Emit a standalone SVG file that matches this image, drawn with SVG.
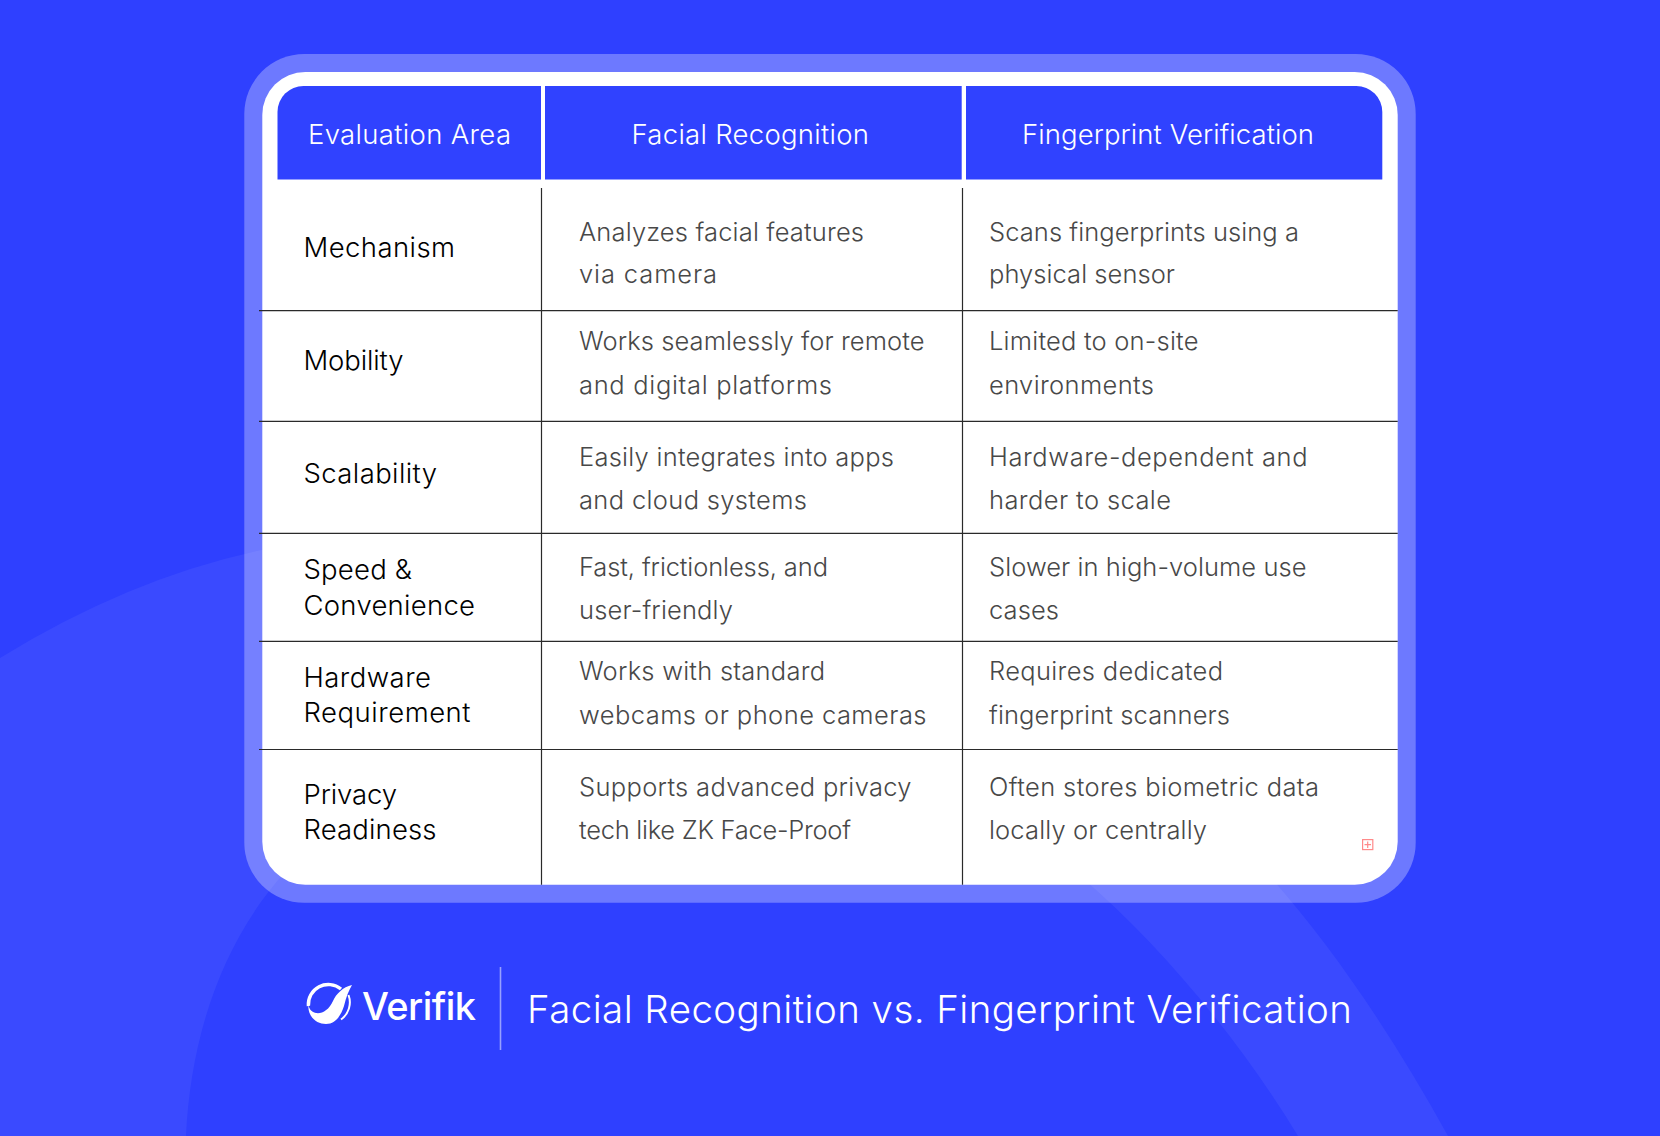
<svg xmlns="http://www.w3.org/2000/svg" width="1660" height="1136" viewBox="0 0 1660 1136">
<style>
text{font-family:"Inter","Noto Sans","Liberation Sans",sans-serif}
.h{font-size:27.5px;fill:#fff;font-weight:300}
.l{font-size:27.5px;fill:#000;font-weight:350}
.b{font-size:25.5px;fill:#484848;font-weight:300}
.g{stroke:#2a2a2a;stroke-width:1.2;fill:none}
</style>
<rect width="1660" height="1136" fill="#2f40ff"/>
<path id="bg-arc" fill="#fff" fill-opacity="0.055" d="M0,658 Q130,578 262,550 L300,550 L1273,880 C1335,950 1395,1040 1448,1136 L1298,1136 C1240,1040 1160,945 1085,880 L285,872 C215,950 190,1050 186,1136 L0,1136 Z"/>
<g id="panel">
<rect x="244.3" y="54" width="1171.4" height="848.7" rx="60" fill="#fff" fill-opacity="0.3"/>
<rect x="262.3" y="72" width="1135.4" height="812.7" rx="43" fill="#fff"/>
</g>
<g id="header" fill="#3042ff">
<path d="M277.5,179.5V112a26,26 0 0 1 26,-26H541V179.5Z"/>
<rect x="545" y="86" width="416.7" height="93.5"/>
<path d="M966,86H1356.3a26,26 0 0 1 26,26V179.5H966Z"/>
<text class="h" x="308" y="144" textLength="203">Evaluation Area</text>
<text class="h" x="631.5" y="144" textLength="237.5">Facial Recognition</text>
<text class="h" x="1022" y="144" textLength="292">Fingerprint Verification</text>
</g>
<g id="grid">
<path class="g" d="M541.5,188V884.7M962.5,188V884.7"/>
<path class="g" d="M259,310.7H1397.7M259,421.3H1397.7M259,533.3H1397.7M259,641.3H1397.7M259,749.5H1397.7"/>
</g>
<g id="row-mechanism">
<text class="l" x="303.5" y="256.5" textLength="151.5">Mechanism</text>
<text class="b" x="579" y="240.7" textLength="285">Analyzes facial features</text>
<text class="b" x="579" y="283" textLength="138">via camera</text>
<text class="b" x="989" y="240.7" textLength="310">Scans fingerprints using a</text>
<text class="b" x="989" y="283" textLength="186">physical sensor</text>
</g>
<g id="row-mobility">
<text class="l" x="303.5" y="369.5" textLength="100">Mobility</text>
<text class="b" x="579" y="349.8" textLength="345.5">Works seamlessly for remote</text>
<text class="b" x="579" y="394" textLength="253">and digital platforms</text>
<text class="b" x="989" y="349.8" textLength="209.5">Limited to on-site</text>
<text class="b" x="989" y="394" textLength="165">environments</text>
</g>
<g id="row-scalability">
<text class="l" x="303.5" y="482.8" textLength="133.5">Scalability</text>
<text class="b" x="579" y="465.5" textLength="315">Easily integrates into apps</text>
<text class="b" x="579" y="508.5" textLength="228">and cloud systems</text>
<text class="b" x="989" y="465.5" textLength="318.5">Hardware-dependent and</text>
<text class="b" x="989" y="508.5" textLength="182">harder to scale</text>
</g>
<g id="row-speed">
<text class="l" x="303.5" y="578.5" textLength="108.5">Speed &amp;</text>
<text class="l" x="303.5" y="614.5" textLength="171.5">Convenience</text>
<text class="b" x="579" y="575.5" textLength="249">Fast, frictionless, and</text>
<text class="b" x="579" y="618.5" textLength="154">user-friendly</text>
<text class="b" x="989" y="575.5" textLength="317.5">Slower in high-volume use</text>
<text class="b" x="989" y="618.5" textLength="70">cases</text>
</g>
<g id="row-hardware">
<text class="l" x="303.5" y="686.5" textLength="127.5">Hardware</text>
<text class="l" x="303.5" y="722" textLength="167">Requirement</text>
<text class="b" x="579" y="679.5" textLength="246">Works with standard</text>
<text class="b" x="579" y="723.5" textLength="347.5">webcams or phone cameras</text>
<text class="b" x="989" y="679.5" textLength="234">Requires dedicated</text>
<text class="b" x="989" y="723.5" textLength="241">fingerprint scanners</text>
</g>
<g id="row-privacy">
<text class="l" x="303.5" y="804" textLength="93.5">Privacy</text>
<text class="l" x="303.5" y="839" textLength="133">Readiness</text>
<text class="b" x="579" y="795.5" textLength="332.5">Supports advanced privacy</text>
<text class="b" x="579" y="838.5" textLength="272">tech like ZK Face-Proof</text>
<text class="b" x="989" y="795.5" textLength="330">Often stores biometric data</text>
<text class="b" x="989" y="838.5" textLength="218">locally or centrally</text>
</g>
<g id="marker" fill="none" stroke="#ff8a8a" stroke-width="1.2">
<rect x="1362.6" y="839.6" width="10.2" height="10"/>
<path d="M1367.7,841.5V848M1364.5,844.6H1371"/>
</g>
<g id="logo">
<path fill="#fff" d="M352,985C343,987 336,994 333,1001C329,1010 322,1014 316,1013C311,1012 308.5,1008 308.5,1004C307,1016 316,1024 326,1024C336,1024 341,1015 344,1006C346,997 349,990 352,985Z"/>
<path fill="none" stroke="#fff" stroke-width="3.4" d="M341,989A20,20 0 0 0 308.4,1006"/>
<path fill="none" stroke="#fff" stroke-width="2" d="M348.5,995A21,21 0 0 1 341,1019.5"/>
<text x="362" y="1020" textLength="114" font-size="38" font-weight="500" fill="#fff">Verifik</text>
</g>
<path id="footer-rule" d="M500.5,967V1050" stroke="#fff" stroke-opacity="0.5" stroke-width="1.6"/>
<text id="title" x="527" y="1022.7" textLength="825" font-size="38.5" font-weight="300" fill="#fff">Facial Recognition vs. Fingerprint Verification</text>
</svg>
